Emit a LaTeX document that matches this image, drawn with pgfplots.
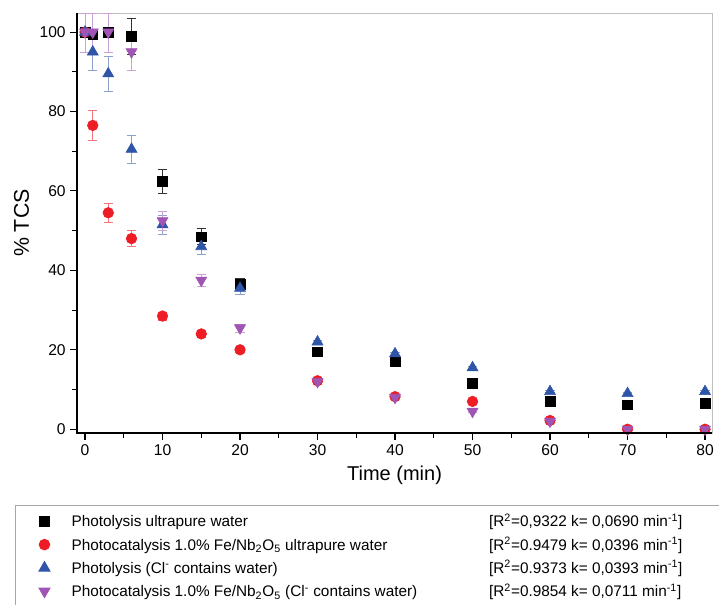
\documentclass[border=0pt]{standalone}
\usepackage{fontspec}
\setmainfont{Liberation Sans}
\usepackage{pgfplots}
\pgfplotsset{compat=1.18}
\definecolor{cblk}{HTML}{000000}
\definecolor{cred}{HTML}{EE1C25}
\definecolor{cblue}{HTML}{2F55A8}
\definecolor{cpur}{HTML}{A055B5}
\begin{document}
\begin{tikzpicture}
\begin{axis}[
  scale only axis,
  width=476pt, height=315pt,
  xmin=-1.03, xmax=80.9, ymin=-1, ymax=104.8,
  xtick={0,10,...,80}, ytick={0,20,...,100},
  minor x tick num=1, minor y tick num=1,
  xtick pos=bottom, ytick pos=left,
  tick align=outside,
  major tick length=5pt, minor tick length=3.5pt,
  tick style={black, line width=0.8pt},
  axis line style={gray!50, line width=0.6pt},
  /pgf/number format/assume math mode=true,
  ticklabel style={font=\fontsize{11.7}{13}\selectfont},
  xlabel={Time (min)}, ylabel={\% TCS},
  xlabel style={font=\fontsize{15}{17}\selectfont, yshift=-1pt},
  ylabel style={font=\fontsize{16}{18}\selectfont, yshift=1pt},
  legend style={at={(0,0)}, anchor=north west, xshift=-46.5pt, yshift=-54pt,
    draw=gray!70, line width=0.6pt, font=\fontsize{11.5}{13}\selectfont,
    row sep=2pt, inner xsep=7.5pt, inner ysep=4pt},
  legend cell align=left,
  legend image code/.code={\path (0pt,0pt) (32pt,0pt);
    \draw[mark repeat=2, mark phase=2, #1] plot coordinates {(0pt,0pt)(14pt,0pt)(28pt,0pt)};},
  error bars/y dir=both, error bars/y explicit,
  error bars/error mark options={rotate=90, mark size=3.5pt},
]
% Photolysis ultrapure water
\addplot+[only marks, mark=square*, mark size=3.6pt, color=cblk, mark options={fill=cblk},
  error bars/error bar style={black!80, line width=0.5pt}]
  coordinates {
  (0,100) += (0,4.8) -= (0,5)
  (1,99.5) += (0,5.3) -= (0,5)
  (3,100) += (0,4.8) -= (0,5)
  (6,99) +- (0,4.5)
  (10,62.5) +- (0,3)
  (15,48.5) +- (0,2)
  (20,36.5) +- (0,1.5)
  (30,19.5) +- (0,0.3)
  (40,17) +- (0,0.3)
  (50,11.5) +- (0,0.3)
  (60,7) +- (0,0.3)
  (70,6.2) +- (0,0.3)
  (80,6.5) +- (0,0.3)
  };
\addlegendentry{\makebox[313pt][l]{Photolysis ultrapure water}\makebox[200pt][l]{[R\textsuperscript{2}=0,9322 k= 0,0690 min\textsuperscript{-1}]}}
% Photocatalysis ultrapure water
\addplot+[only marks, mark=*, mark size=4pt, color=cred, mark options={fill=cred},
  error bars/error bar style={cred!60, line width=0.5pt}]
  coordinates {
  (0,100) += (0,4.8) -= (0,5)
  (1,76.5) +- (0,3.7)
  (3,54.5) +- (0,2.5)
  (6,48) +- (0,2)
  (10,28.5) +- (0,1)
  (15,24) +- (0,0.8)
  (20,20) +- (0,0.5)
  (30,12.2) +- (0,0.3)
  (40,8.2) +- (0,0.3)
  (50,7) +- (0,0.3)
  (60,2.2) +- (0,0.3)
  (70,0) +- (0,0.3)
  (80,0) +- (0,0.3)
  };
\addlegendentry{\makebox[313pt][l]{Photocatalysis 1.0\% Fe/Nb\textsubscript{2}O\textsubscript{5} ultrapure water}\makebox[200pt][l]{[R\textsuperscript{2}=0.9479 k= 0,0396 min\textsuperscript{-1}]}}
% Photolysis Cl- water
\addplot+[only marks, mark=triangle*, mark size=4.8pt, color=cblue, mark options={fill=cblue},
  error bars/error bar style={cblue!55, line width=0.5pt}]
  coordinates {
  (0,100) += (0,4.8) -= (0,5)
  (1,95) +- (0,4.5)
  (3,89.5) +- (0,4.5)
  (6,70.5) +- (0,3.5)
  (10,51.5) +- (0,2.5)
  (15,46) +- (0,2)
  (20,35.5) +- (0,1.5)
  (30,22) +- (0,0.3)
  (40,19) +- (0,0.3)
  (50,15.5) +- (0,0.3)
  (60,9.5) +- (0,0.3)
  (70,9) +- (0,0.3)
  (80,9.5) +- (0,0.3)
  };
\addlegendentry{\makebox[313pt][l]{Photolysis (Cl\textsuperscript{-} contains water)}\makebox[200pt][l]{[R\textsuperscript{2}=0.9373 k= 0,0393 min\textsuperscript{-1}]}}
% Photocatalysis Cl- water
\addplot+[only marks, mark=triangle*, mark size=4.8pt, color=cpur, mark options={fill=cpur, rotate=180},
  error bars/error bar style={cpur!55, line width=0.5pt}]
  coordinates {
  (0,100) += (0,4.8) -= (0,5)
  (1,100) += (0,4.8) -= (0,5)
  (3,100) += (0,4.8) -= (0,5)
  (6,95) +- (0,4.5)
  (10,52.5) +- (0,2.5)
  (15,37.5) +- (0,1.5)
  (20,25.5) +- (0,1)
  (30,12) +- (0,0.3)
  (40,8) +- (0,0.3)
  (50,4.5) +- (0,0.3)
  (60,2) +- (0,0.3)
  (70,0) +- (0,0.3)
  (80,0) +- (0,0.3)
  };
\addlegendentry{\makebox[313pt][l]{Photocatalysis 1.0\% Fe/Nb\textsubscript{2}O\textsubscript{5} (Cl\textsuperscript{-} contains water)}\makebox[200pt][l]{[R\textsuperscript{2}=0.9854 k= 0,0711 min\textsuperscript{-1}]}}
\end{axis}
\draw[black, line width=1.3pt] (current axis.north west) -- (current axis.south west) -- (current axis.south east);
\pgfresetboundingbox
\path[use as bounding box] ([shift={(-57.75pt,-128.25pt)}]current axis.south west) rectangle ([shift={(5.25pt,9.75pt)}]current axis.north east);
\end{tikzpicture}
\end{document}
